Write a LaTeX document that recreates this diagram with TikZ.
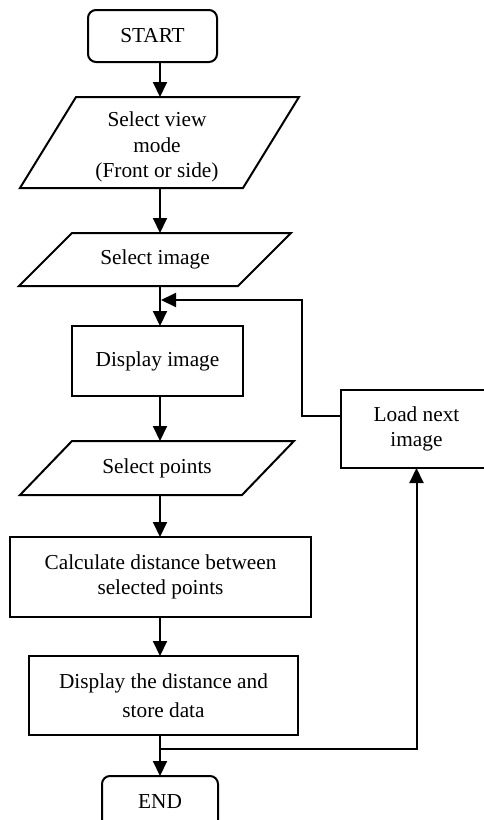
\documentclass[tikz,border=0pt]{standalone}
\usepackage{fontspec}
\setmainfont{Liberation Serif}
\usetikzlibrary{arrows.meta,calc}
\begin{document}
\begin{tikzpicture}[x=1pt,y=-1pt,
  line width=2pt,
  every node/.style={font=\fontsize{21.3}{25.5}\selectfont, inner sep=0pt, outer sep=0pt},
  boxst/.style={draw, rectangle, line width=2pt},
  termst/.style={draw, rounded corners=8pt, line width=2pt},
  iost/.style={align=center},
  arr/.style={-{Triangle[length=15pt,width=14pt]}, line width=2pt},
  lbl/.style={align=center}]
\useasboundingbox (0,0) rectangle (484,820);
\clip (0,0) rectangle (484,820);
\fill[white] (0,0) rectangle (484,820);
\coordinate (sp) at (160,0);

\node[termst, minimum width=129pt, minimum height=52pt] (start) at (152.5,36) {START};

\node[iost, minimum width=223pt, minimum height=91pt] (p1) at (159.5,142.5) {};
\node[iost] (p1t) at (157,147) {Select view\\mode\\(Front or side)};
\draw ([xshift=28pt]p1.north west) -- ([xshift=28pt]p1.north east) -- ([xshift=-28pt]p1.south east) -- ([xshift=-28pt]p1.south west) -- cycle;

\node[iost, minimum width=219pt, minimum height=53pt] (p2) at (155,259.5) {Select image};
\draw ([xshift=26.5pt]p2.north west) -- ([xshift=26.5pt]p2.north east) -- ([xshift=-26.5pt]p2.south east) -- ([xshift=-26.5pt]p2.south west) -- cycle;

\node[boxst, minimum width=171pt, minimum height=70pt] (dimg) at (157.5,361) {Display image};

\node[iost, minimum width=222pt, minimum height=54pt] (p3) at (157,468) {Select points};
\draw ([xshift=26pt]p3.north west) -- ([xshift=26pt]p3.north east) -- ([xshift=-26pt]p3.south east) -- ([xshift=-26pt]p3.south west) -- cycle;

\node[boxst, lbl, minimum width=301pt, minimum height=80pt] (calc) at (160.5,577) {Calculate distance between\\selected points};

\node[boxst, lbl, minimum width=269pt, minimum height=79pt] (disp) at (163.5,695.5) {Display the distance and\\[4pt]store data};

\node[termst, minimum width=116pt, minimum height=52pt] (end) at (160,802) {END};

\node[boxst, lbl, minimum width=151pt, minimum height=78pt] (load) at (416.5,429) {Load next\\image};

\coordinate (j) at (160,749);
\coordinate (lp) at (302,300);
\coordinate (lm) at (161,300);

\draw[arr] (start.south -| sp) -- (p1.north -| sp);
\draw[arr] (p1.south -| sp) -- (p2.north -| sp);
\draw[arr] (p2.south -| sp) -- (dimg.north -| sp);
\draw[arr] (dimg.south -| sp) -- (p3.north -| sp);
\draw[arr] (p3.south -| sp) -- (calc.north -| sp);
\draw[arr] (calc.south -| sp) -- (disp.north -| sp);
\draw[arr] (disp.south -| sp) -- (end.north -| sp);
\draw[arr] (j) -| (load.south);
\draw[arr] ([yshift=13pt]load.west) -| (lp) -- (lm);
\end{tikzpicture}
\end{document}
